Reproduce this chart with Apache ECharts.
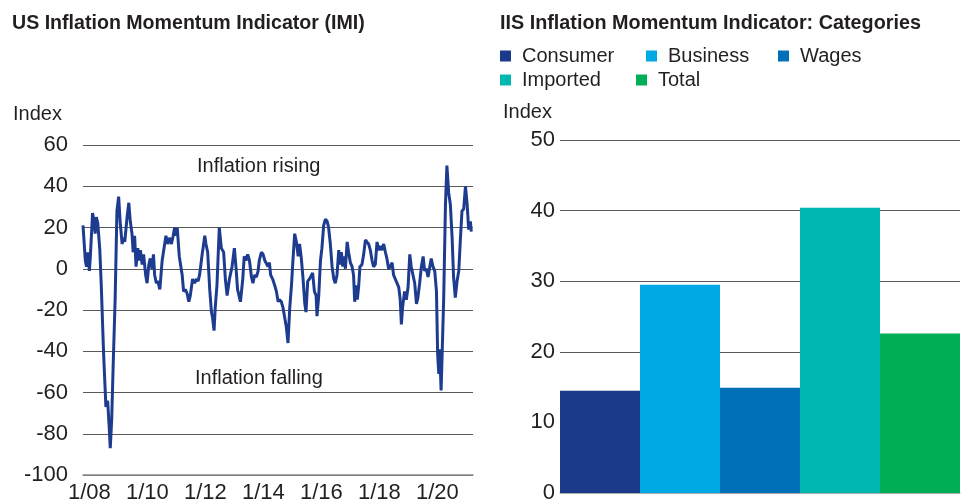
<!DOCTYPE html>
<html>
<head>
<meta charset="utf-8">
<title>Inflation Momentum Indicator</title>
<script src="https://cdn.jsdelivr.net/npm/echarts@6/dist/echarts.min.js"></script>
<style>
  html, body { margin: 0; padding: 0; background: #fff; }
  #chart { width: 968px; height: 504px; }
</style>
</head>
<body>
<div id="chart"></div>
<script>
// left panel: IMI, decimal years
const imiDates = [
  2007.78, 2007.86, 2007.90, 2007.94, 2008.00, 2008.03, 2008.11, 2008.15, 2008.20, 2008.24,
  2008.29, 2008.36, 2008.41, 2008.49, 2008.57, 2008.63, 2008.68, 2008.72, 2008.77, 2008.82,
  2008.89, 2008.95, 2009.01, 2009.06, 2009.13, 2009.18, 2009.22, 2009.30, 2009.36, 2009.41,
  2009.47, 2009.51, 2009.56, 2009.61, 2009.67, 2009.71, 2009.76, 2009.82, 2009.87, 2009.94,
  2009.99, 2010.05, 2010.10, 2010.16, 2010.21, 2010.25, 2010.31, 2010.36, 2010.43, 2010.51,
  2010.56, 2010.64, 2010.70, 2010.76, 2010.83, 2010.89, 2010.94, 2010.99, 2011.03, 2011.10,
  2011.20, 2011.25, 2011.31, 2011.37, 2011.43, 2011.48, 2011.56, 2011.63, 2011.69, 2011.75,
  2011.80, 2011.89, 2011.98, 2012.02, 2012.08, 2012.15, 2012.21, 2012.25, 2012.30, 2012.34,
  2012.40, 2012.48, 2012.55, 2012.63, 2012.69, 2012.75, 2012.83, 2012.92, 2013.00, 2013.06,
  2013.11, 2013.21, 2013.29, 2013.34, 2013.40, 2013.46, 2013.52, 2013.59, 2013.64, 2013.70,
  2013.76, 2013.82, 2013.86, 2013.93, 2013.99, 2014.05, 2014.10, 2014.16, 2014.21, 2014.25,
  2014.32, 2014.39, 2014.45, 2014.51, 2014.56, 2014.62, 2014.68, 2014.74, 2014.79, 2014.85,
  2014.91, 2014.97, 2015.02, 2015.08, 2015.14, 2015.20, 2015.25, 2015.31, 2015.37, 2015.43,
  2015.47, 2015.53, 2015.59, 2015.64, 2015.70, 2015.76, 2015.82, 2015.85, 2015.91, 2015.97,
  2016.02, 2016.08, 2016.14, 2016.20, 2016.25, 2016.31, 2016.37, 2016.43, 2016.48, 2016.54,
  2016.60, 2016.64, 2016.69, 2016.74, 2016.78, 2016.83, 2016.89, 2016.94, 2017.00, 2017.06,
  2017.11, 2017.15, 2017.20, 2017.24, 2017.29, 2017.33, 2017.40, 2017.46, 2017.52, 2017.57,
  2017.63, 2017.69, 2017.75, 2017.80, 2017.86, 2017.92, 2017.98, 2018.03, 2018.09, 2018.15,
  2018.21, 2018.26, 2018.32, 2018.38, 2018.44, 2018.49, 2018.55, 2018.61, 2018.67, 2018.72,
  2018.76, 2018.80, 2018.87, 2018.93, 2018.99, 2019.05, 2019.10, 2019.16, 2019.22, 2019.28,
  2019.33, 2019.39, 2019.45, 2019.51, 2019.56, 2019.62, 2019.68, 2019.74, 2019.79, 2019.85,
  2019.91, 2019.97, 2020.01, 2020.05, 2020.08, 2020.13, 2020.17, 2020.22, 2020.28, 2020.33,
  2020.39, 2020.45, 2020.51, 2020.56, 2020.62, 2020.68, 2020.74, 2020.79, 2020.85, 2020.91,
  2020.97, 2021.03, 2021.08, 2021.14, 2021.17
]
const imiValues = [
  21, 4, 1, 8, -1, 5, 27, 24, 17, 25,
  22, 9, -8, -41, -67, -64, -76, -87, -73, -47,
  -14, 28, 35, 23, 12, 15, 13, 25, 32, 23,
  17, 8, 16, 1, 10, 4, 9, 2, 7, -3,
  -7, 2, 5, 0, 7, -3, -7, -6, -10, 4,
  4, 16, 12, 15, 12, 16, 20, 16, 20, 6,
  -3, -11, -10, -12, -16, -13, -5, -7, -5, -6,
  -3, 7, 16, 12, 8, -10, -21, -24, -30, -19,
  -8, 20, 10, 8, -5, -13, -5, 1, 10, 0,
  -10, -16, -5, 6, 4, 7, 4, -4, -7, -3,
  -4, -1, 4, 8, 7, 4, 4, 1, 3, -3,
  -5, -8, -11, -16, -15, -16, -19, -24, -28, -36,
  -19, -8, 4, 17, 13, 6, 12, 5, -5, -17,
  -21, -6, -5, -5, -2, -11, -13, -23, -13, 4,
  10, 21, 24, 23, 20, 12, 1, -5, -7, -3,
  9, 2, 8, 1, 6, 0, 13, 8, 3, 1,
  -3, -16, -8, -15, -8, 1, 2, 7, 14, 13,
  12, 9, 4, 1, 2, 13, 9, 11, 9, 12,
  8, 5, 0, 1, 3, -3, -5, -7, -9, -15,
  -27, -19, -11, -15, -9, 7, 1, -3, -7, -17,
  -14, -7, 1, 6, -1, 0, -4, 1, 5, 1,
  -1, -11, -41, -51, -39, -59, -39, -14, 31, 50,
  37, 31, 15, -4, -14, -6, -1, 13, 28, 29,
  40, 31, 19, 23, 18
]
const imiTickYears = [2008, 2010, 2012, 2014, 2016, 2018, 2020]

// right panel: categories
const categories = ['Consumer', 'Business', 'Wages', 'Imported', 'Total']
const categoryValues = [14.5, 29.5, 14.9, 40.4, 22.6]
const categoryColors = ['#1b3a8a', '#00a9e4', '#0070b8', '#00b8b0', '#00af55']

const FONT = '"Liberation Sans", Arial, sans-serif'
const TEXT = '#231f20'

let myChart = echarts.init(document.getElementById('chart'))

// one single-item legend per entry so each can sit where the picture has it
const legendSpots = [[500, 46], [646, 46], [778, 46], [500, 70], [636, 70]]
let legends = categories.map((name, i) => ({
  data: [name],
  left: legendSpots[i][0],
  top: legendSpots[i][1],
  padding: 0,
  icon: 'rect',
  itemWidth: 11,
  itemHeight: 11,
  selectedMode: false,
  textStyle: { fontFamily: FONT, fontSize: 20, color: TEXT, lineHeight: 20, padding: [0, 0, 0, 6] }
}))

let barSeries = categories.map((name, i) => ({
  name: name,
  type: 'bar',
  xAxisIndex: 1,
  yAxisIndex: 1,
  barGap: '-100%',
  barCategoryGap: 0,
  itemStyle: { color: categoryColors[i] },
  data: categoryValues.map((v, j) => (j === i ? v : null))
}))

let option = {
  animation: false,
  backgroundColor: '#fff',
  textStyle: { fontFamily: FONT },
  legend: legends,
  grid: [
    { left: 83, right: 495, top: 145, bottom: 28 },
    { left: 560, right: 8, top: 140, bottom: 8 }
  ],
  xAxis: [
    {
      gridIndex: 0,
      type: 'value',
      min: 2007.78,
      max: 2021.23,
      splitLine: { show: false },
      axisTick: { show: false },
      axisLine: { show: true, onZero: false, lineStyle: { color: '#8c8c8c', width: 1.5 } },
      axisLabel: {
        customValues: imiTickYears,
        margin: 7,
        fontSize: 22,
        color: TEXT,
        formatter: v => '1/' + String(v).slice(2)
      }
    },
    {
      gridIndex: 1,
      type: 'category',
      data: categories,
      axisTick: { show: false },
      axisLabel: { show: false },
      axisLine: { show: true, lineStyle: { color: '#c8c8c8', width: 1.5 } }
    }
  ],
  yAxis: [
    {
      gridIndex: 0,
      type: 'value',
      min: -100,
      max: 60,
      interval: 20,
      axisLine: { show: false },
      axisTick: { show: false },
      axisLabel: { fontSize: 22, color: TEXT, margin: 15 },
      splitLine: { lineStyle: { color: '#5a5a5a', width: 1.2 } }
    },
    {
      gridIndex: 1,
      type: 'value',
      min: 0,
      max: 50,
      interval: 10,
      axisLine: { show: false },
      axisTick: { show: false },
      axisLabel: {
        fontSize: 22,
        margin: 5,
        color: v => (v === 0 ? '#8a8a8a' : TEXT)
      },
      splitLine: { lineStyle: { color: '#5a5a5a', width: 1.2 } }
    }
  ],
  graphic: [
    { type: 'text', left: 12, top: 14, style: { text: 'US Inflation Momentum Indicator (IMI)', font: 'bold 19.6px ' + FONT, fill: TEXT } },
    { type: 'text', left: 500, top: 14, style: { text: 'IIS Inflation Momentum Indicator: Categories', font: 'bold 19.8px ' + FONT, fill: TEXT } },
    { type: 'text', left: 13, top: 104, style: { text: 'Index', font: '20px ' + FONT, fill: TEXT } },
    { type: 'text', left: 503, top: 102, style: { text: 'Index', font: '20px ' + FONT, fill: TEXT } },
    { type: 'text', left: 197, top: 156, style: { text: 'Inflation rising', font: '20px ' + FONT, fill: TEXT } },
    { type: 'text', left: 195, top: 368, style: { text: 'Inflation falling', font: '20px ' + FONT, fill: TEXT } }
  ],
  series: [
    {
      name: 'IMI',
      type: 'line',
      xAxisIndex: 0,
      yAxisIndex: 0,
      showSymbol: false,
      lineStyle: { color: '#1d3c8f', width: 3 },
      data: imiDates.map((d, i) => [d, imiValues[i]])
    }
  ].concat(barSeries)
}

myChart.setOption(option)
</script>
</body>
</html>
